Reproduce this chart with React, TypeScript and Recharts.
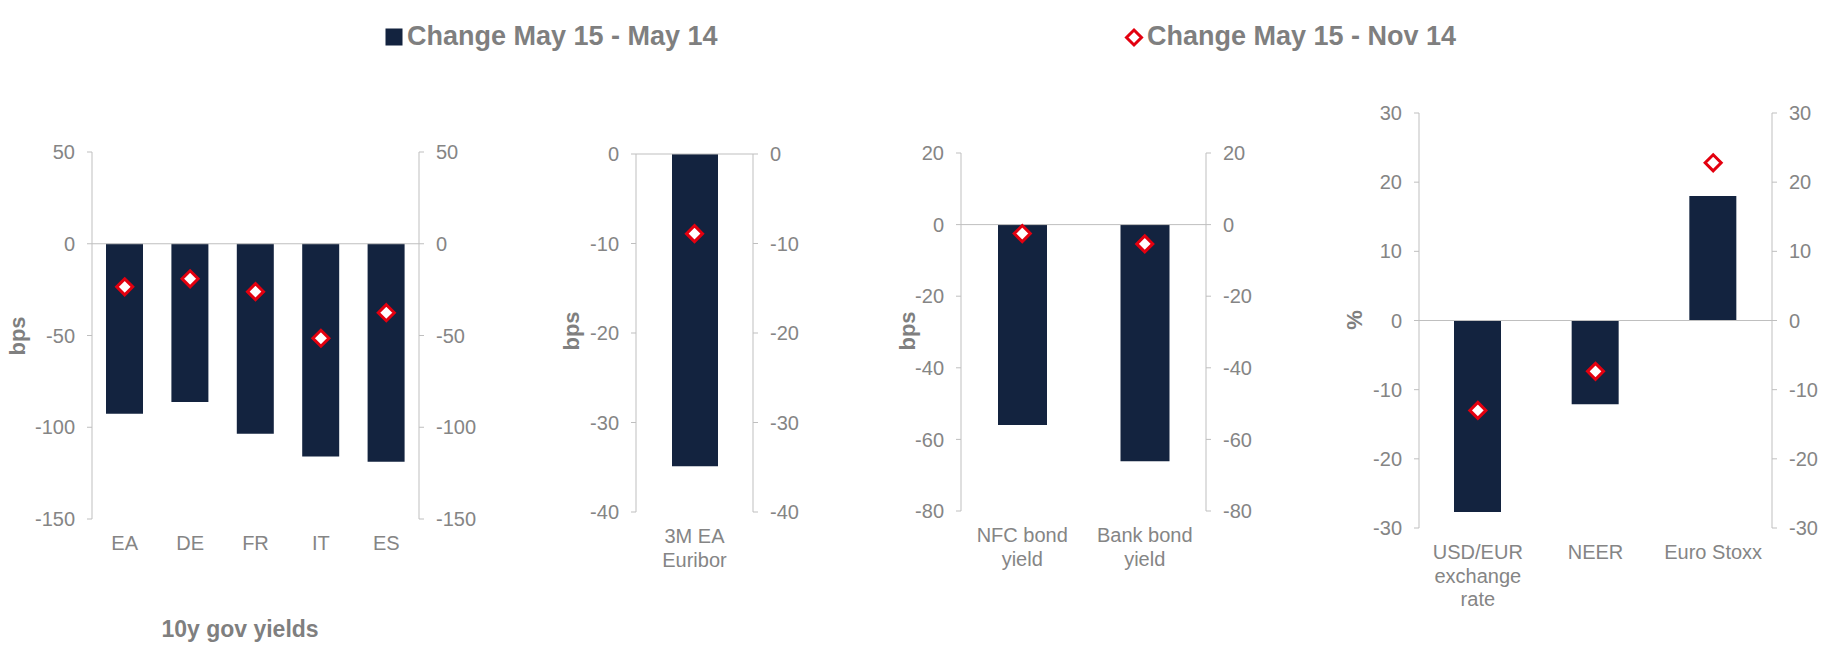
import React from 'react';
import { ComposedChart, Bar, Line, XAxis, YAxis, ReferenceLine } from 'recharts';

// 10y gov yields
const govCats = ['EA', 'DE', 'FR', 'IT', 'ES'];
const govMay14 = [-92.7, -86.2, -103.5, -115.9, -118.8];
const govNov14 = [-23.5, -19.1, -26.1, -51.5, -37.6];

// Euribor
const euriborCats = ['3M EA\nEuribor'];
const euriborMay14 = [-34.9];
const euriborNov14 = [-8.9];

// bond yields
const bondCats = ['NFC bond\nyield', 'Bank bond\nyield'];
const bondMay14 = [-56.0, -66.1];
const bondNov14 = [-2.5, -5.4];

// FX and equities
const fxCats = ['USD/EUR\nexchange\nrate', 'NEER', 'Euro Stoxx'];
const fxMay14 = [-27.7, -12.1, 18.0];
const fxNov14 = [-13.0, -7.35, 22.8];

const NAVY = '#13233f';
const RED = '#e3000f';
const AXIS = '#bfbfbf';
const TEXT = '#858585';
const LABEL = '#7f7f7f';
const H = 649;
const XH = 100;

const panels = [
  { cats: govCats, may: govMay14, nov: govNov14, domain: [-150, 50], ticks: [-150, -100, -50, 0, 50], left: 0, wl: 92, pw: 327, wr: 90, top: 152, bottom: 519, barSize: 37, unit: 'bps', ux: 17, uy: 336 },
  { cats: euriborCats, may: euriborMay14, nov: euriborNov14, domain: [-40, 0], ticks: [-40, -30, -20, -10, 0], left: 536, wl: 100, pw: 117, wr: 80, top: 154, bottom: 512, barSize: 46, unit: 'bps', ux: 571, uy: 331 },
  { cats: bondCats, may: bondMay14, nov: bondNov14, domain: [-80, 20], ticks: [-80, -60, -40, -20, 0, 20], left: 861, wl: 100, pw: 245, wr: 80, top: 153, bottom: 511, barSize: 49, unit: 'bps', ux: 907, uy: 331 },
  { cats: fxCats, may: fxMay14, nov: fxNov14, domain: [-30, 30], ticks: [-30, -20, -10, 0, 10, 20, 30], left: 1319, wl: 100, pw: 353, wr: 53, top: 113, bottom: 528, barSize: 47, unit: '%', ux: 1354, uy: 320 },
];

const CatTick = (props: any) => {
  const { x, y, payload } = props;
  const lines = String(payload.value).split('\n');
  return (
    <text x={x} y={y} textAnchor="middle" fill={TEXT} fontSize={20}>
      {lines.map((l, i) => (
        <tspan key={i} x={x} dy={i === 0 ? '0.71em' : 23.5}>{l}</tspan>
      ))}
    </text>
  );
};

const diamondPath = (cx: number, cy: number, r: number) =>
  `M${cx},${cy - r}L${cx + r},${cy}L${cx},${cy + r}L${cx - r},${cy}Z`;

const renderDiamond = (props: any) => {
  const { cx, cy, index } = props;
  if (cx == null || cy == null) return <g key={index} />;
  return <path key={index} d={diamondPath(cx, cy, 8)} fill="#fff" stroke={RED} strokeWidth={3} />;
};

const Panel = ({ p }: { p: typeof panels[number] }) => {
  const data = p.cats.map((c, i) => ({ cat: c, may: p.may[i], nov: p.nov[i] }));
  const width = p.wl + p.pw + p.wr;
  const axisProps = {
    domain: p.domain,
    ticks: p.ticks,
    type: 'number' as const,
    tickSize: 5,
    tickMargin: 12,
    axisLine: { stroke: AXIS },
    tickLine: { stroke: AXIS },
    tick: { fill: TEXT, fontSize: 20 },
    allowDataOverflow: true,
    interval: 0 as const,
  };
  return (
    <div style={{ position: 'absolute', left: p.left, top: 0 }}>
      <ComposedChart
        width={width}
        height={H}
        data={data}
        margin={{ top: p.top, bottom: H - p.bottom - XH, left: 0, right: 0 }}
      >
        <XAxis
          dataKey="cat"
          height={XH}
          tickLine={false}
          axisLine={false}
          interval={0}
          tickSize={0}
          tickMargin={17}
          tick={<CatTick />}
        />
        <YAxis yAxisId="l" width={p.wl} {...axisProps} />
        <YAxis yAxisId="r" orientation="right" width={p.wr} {...axisProps} />
        <ReferenceLine yAxisId="l" y={0} stroke={AXIS} />
        <Bar yAxisId="l" dataKey="may" fill={NAVY} barSize={p.barSize} isAnimationActive={false} />
        <Line
          yAxisId="l"
          dataKey="nov"
          stroke="none"
          dot={renderDiamond}
          activeDot={false}
          isAnimationActive={false}
        />
      </ComposedChart>
    </div>
  );
};

export default function App() {
  return (
    <div
      style={{
        position: 'absolute',
        left: 0,
        top: 0,
        width: 1825,
        height: H,
        background: '#fff',
        fontFamily: '"Liberation Sans", Arial, sans-serif',
      }}
    >
      {panels.map((p, i) => (
        <Panel key={i} p={p} />
      ))}
      <svg width={1825} height={H} style={{ position: 'absolute', left: 0, top: 0, pointerEvents: 'none' }}>
        <rect x={385.5} y={28.5} width={17} height={17} fill={NAVY} />
        <text x={407} y={45} fontSize={27} fontWeight="bold" fill={LABEL}>Change May 15 - May 14</text>
        <path d={diamondPath(1134, 37.5, 7.5)} fill="#fff" stroke={RED} strokeWidth={3} />
        <text x={1147} y={45} fontSize={27} fontWeight="bold" fill={LABEL}>Change May 15 - Nov 14</text>
        {panels.map((p, i) => (
          <text
            key={i}
            transform={`translate(${p.ux},${p.uy}) rotate(-90)`}
            textAnchor="middle"
            dy="0.35em"
            fontSize={22}
            fontWeight="bold"
            fill={LABEL}
          >
            {p.unit}
          </text>
        ))}
        <text x={240} y={637} textAnchor="middle" fontSize={23} fontWeight="bold" fill={LABEL}>10y gov yields</text>
      </svg>
    </div>
  );
}
